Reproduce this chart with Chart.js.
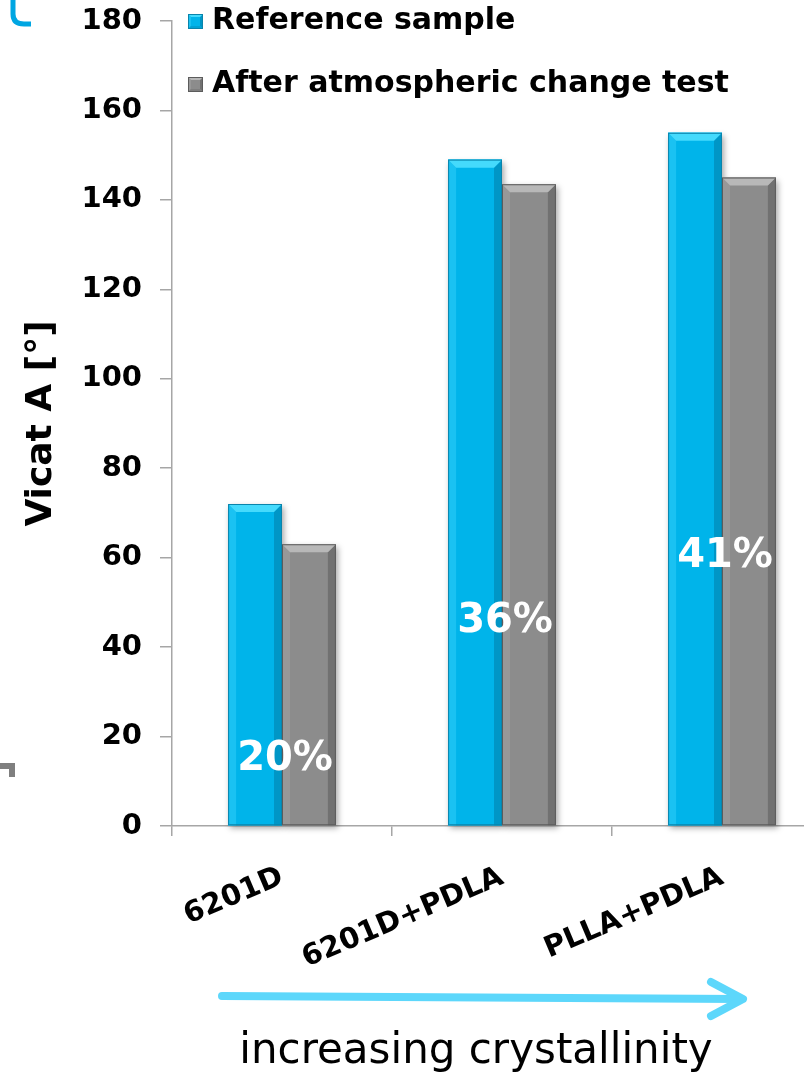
<!DOCTYPE html>
<html><head><meta charset="utf-8">
<script src="https://cdn.jsdelivr.net/npm/chart.js@4.4.1/dist/chart.umd.min.js"></script>
<style>
html,body{margin:0;padding:0;background:#fff;overflow:hidden;width:804px;height:1072px}
#wrap{position:absolute;left:0;top:0;width:840px;height:1072px}
</style>
</head><body><div id="wrap"><canvas id="c" width="840" height="1072"></canvas></div>
<script>
// ---- data ----
const categories = ['6201D', '6201D+PDLA', 'PLLA+PDLA'];
const referenceSample = [72, 149, 155];
const afterAtmosphericTest = [63, 143.5, 145];
const crystallinity = ['20%', '36%', '41%'];
const yTickValues = [0, 20, 40, 60, 80, 100, 120, 140, 160, 180];
const seriesNames = ['Reference sample', 'After atmospheric change test'];
const axisTitle = 'Vicat A [°]';
const arrowCaption = 'increasing crystallinity';

const FONT = "'DejaVu Sans', Verdana, sans-serif";
const AXIS_GRAY = '#a6a6a6';

const palettes = [
  {main:'#00b4ea', top:'#45dafc', left:'#1ac2f2', right:'#0096c6', bottom:'#00a2d4', border:'#0a84ab'},
  {main:'#8c8c8c', top:'#b8b8b8', left:'#989898', right:'#717171', bottom:'#7e7e7e', border:'#5c5c5c'}
];

function poly(ctx, pts, color) {
  ctx.beginPath();
  ctx.moveTo(pts[0][0], pts[0][1]);
  for (let i = 1; i < pts.length; i++) ctx.lineTo(pts[i][0], pts[i][1]);
  ctx.closePath();
  ctx.fillStyle = color;
  ctx.fill();
}
function bevel(ctx, l, t, r, b, p, size, withBottom) {
  const w = r - l, h = b - t;
  const bv = Math.min(size, w / 4, h / 2);
  ctx.save();
  ctx.fillStyle = p.main;
  ctx.fillRect(l, t, w, h);
  poly(ctx, [[l,t],[l+bv,t+bv],[l+bv,b-(withBottom?bv:0)],[l,b]], p.left);
  poly(ctx, [[r,t],[r-bv,t+bv],[r-bv,b-(withBottom?bv:0)],[r,b]], p.right);
  if (withBottom) poly(ctx, [[l,b],[l+bv,b-bv],[r-bv,b-bv],[r,b]], p.bottom);
  poly(ctx, [[l,t],[r,t],[r-bv,t+bv],[l+bv,t+bv]], p.top);
  ctx.strokeStyle = p.border;
  ctx.lineWidth = 1;
  ctx.strokeRect(l + 0.5, t + 0.5, w - 1, h - 1);
  ctx.restore();
}

const barShadow = {
  id: 'barShadow',
  beforeDatasetsDraw(chart) {
    const ctx = chart.ctx;
    chart.data.datasets.forEach((ds, di) => {
      chart.getDatasetMeta(di).data.forEach(el => {
        const {x, y, base, width} = el.getProps(['x','y','base','width'], true);
        ctx.save();
        ctx.shadowColor = 'rgba(0,0,0,0.35)';
        ctx.shadowBlur = 6;
        ctx.shadowOffsetX = 2;
        ctx.shadowOffsetY = 3;
        ctx.fillStyle = palettes[di].main;
        ctx.fillRect(x - width/2, y, width, base - y);
        ctx.restore();
      });
    });
  },
  afterDatasetsDraw(chart) {
    const ctx = chart.ctx;
    chart.data.datasets.forEach((ds, di) => {
      chart.getDatasetMeta(di).data.forEach(el => {
        const {x, y, base, width} = el.getProps(['x','y','base','width'], true);
        bevel(ctx, x - width/2, y, x + width/2, base, palettes[di], 8, false);
      });
    });
  }
};

const legendPlugin = {
  id: 'sideLegend',
  afterDraw(chart, args, opts) {
    const ctx = chart.ctx;
    const a = chart.chartArea;
    chart.data.datasets.forEach((ds, i) => {
      const yc = opts.rows[i];
      const sx = a.left + opts.offsetX;
      bevel(ctx, sx, yc - 7, sx + 15, yc + 8, palettes[i], 3, true);
      ctx.save();
      ctx.fillStyle = '#000';
      ctx.font = 'bold 30px ' + FONT;
      ctx.textBaseline = 'middle';
      ctx.textAlign = 'left';
      ctx.fillText(ds.label, sx + 24, yc);
      ctx.restore();
    });
  }
};

const pctPlugin = {
  id: 'pctLabels',
  afterDatasetsDraw(chart, args, opts) {
    const ctx = chart.ctx;
    const xs = chart.scales.x, ys = chart.scales.y;
    ctx.save();
    ctx.fillStyle = '#ffffff';
    ctx.font = 'bold 40px ' + FONT;
    ctx.textAlign = 'center';
    ctx.textBaseline = 'middle';
    crystallinity.forEach((t, i) => {
      ctx.fillText(t, xs.getPixelForValue(i) + opts.dx, ys.getPixelForValue(opts.levels[i]));
    });
    ctx.restore();
  }
};

const decoPlugin = {
  id: 'deco',
  afterDraw(chart) {
    const ctx = chart.ctx;
    ctx.save();
    // arrow
    ctx.strokeStyle = '#5dd7fb';
    ctx.lineWidth = 8;
    ctx.lineCap = 'round';
    ctx.lineJoin = 'round';
    ctx.beginPath();
    ctx.moveTo(222, 996);
    ctx.lineTo(740, 999);
    ctx.stroke();
    ctx.beginPath();
    ctx.moveTo(711, 982);
    ctx.lineTo(743, 999);
    ctx.lineTo(711, 1016);
    ctx.stroke();
    // caption
    ctx.fillStyle = '#000';
    ctx.font = '42px ' + FONT;
    ctx.textAlign = 'center';
    ctx.textBaseline = 'alphabetic';
    ctx.fillText(arrowCaption, 476, 1063);
    // cropped remnants at the left edge
    ctx.strokeStyle = '#00a6e2';
    ctx.lineWidth = 5;
    ctx.lineCap = 'butt';
    ctx.beginPath();
    ctx.moveTo(13, 0);
    ctx.lineTo(13, 14);
    ctx.quadraticCurveTo(13, 24, 24, 24);
    ctx.lineTo(31, 24);
    ctx.stroke();
    ctx.fillStyle = '#7f7f7f';
    ctx.fillRect(0, 763, 15, 6);
    ctx.fillRect(9, 763, 6, 14);
    ctx.restore();
  }
};

new Chart(document.getElementById('c'), {
  type: 'bar',
  data: {
    labels: categories,
    datasets: [
      {label: seriesNames[0], data: referenceSample, backgroundColor: palettes[0].main, borderWidth: 0,
       categoryPercentage: 0.49, barPercentage: 1.0},
      {label: seriesNames[1], data: afterAtmosphericTest, backgroundColor: palettes[1].main, borderWidth: 0,
       categoryPercentage: 0.49, barPercentage: 1.0}
    ]
  },
  options: {
    responsive: false,
    animation: false,
    devicePixelRatio: 1,
    layout: {padding: {left: 20, right: 8, top: 21, bottom: 0}},
    plugins: {
      legend: {display: false},
      tooltip: {enabled: false},
      sideLegend: {rows: [21, 84], offsetX: 16},
      pctLabels: {levels: [14.8, 45.6, 60.2], dx: 3}
    },
    scales: {
      x: {
        ticks: {color: '#000', font: {family: FONT, weight: 'bold', size: 29},
                minRotation: 23, maxRotation: 23, autoSkip: false, padding: 24},
        grid: {offset: true, drawOnChartArea: false, drawTicks: true, tickLength: 10,
               color: AXIS_GRAY, lineWidth: 1.5},
        border: {display: true, color: AXIS_GRAY, width: 1.5},
        afterFit(s) { s.height = 1072 - 826; }
      },
      y: {
        min: 0, max: 180,
        afterBuildTicks(s) { s.ticks = yTickValues.map(v => ({value: v})); },
        ticks: {color: '#000', font: {family: FONT, weight: 'bold', size: 29}, padding: 18},
        grid: {drawOnChartArea: false, drawTicks: true, tickLength: 12, color: AXIS_GRAY, lineWidth: 1.5},
        border: {display: true, color: AXIS_GRAY, width: 1.5},
        title: {display: true, text: axisTitle, color: '#000',
                font: {family: FONT, weight: 'bold', size: 36}, padding: 0},
        afterFit(s) { s.width = 152; s.paddingTop = 0; s.paddingBottom = 0; }
      }
    }
  },
  plugins: [barShadow, legendPlugin, pctPlugin, decoPlugin]
});
</script>
</body></html>
